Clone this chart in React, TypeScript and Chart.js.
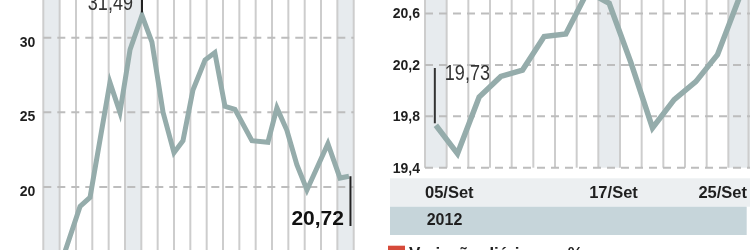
import React, { useEffect, useRef } from 'react';
import { Chart, registerables } from 'chart.js';

Chart.register(...registerables);

// ---------- Left chart: long history ----------
const histX = [1.0, 2.25, 2.86, 4.08, 4.69, 5.31, 6.04, 6.65, 7.33, 8.0, 8.55, 9.16, 9.9, 10.5, 11.12, 11.73, 12.77, 13.75, 14.3, 14.91, 15.52, 16.14, 17.42, 18.16, 18.71];
const histValues = [14.6, 18.7, 19.3, 27.0, 25.0, 29.2, 31.49, 29.7, 25.0, 22.3, 23.1, 26.5, 28.5, 29.0, 25.4, 25.2, 23.1, 23.0, 25.3, 23.8, 21.5, 19.8, 22.9, 20.6, 20.72];
const histYTicks = [20, 25, 30];
const histColumnCount = 19;
const histShadedColumns = [0, 5, 18];
const histPeakIndex = 6;
const histPeakLabel = '31,49';
const histLastLabel = '20,72';

// ---------- Right chart: September 2012 ----------
const days = ['05/Set', '06/Set', '07/Set', '10/Set', '11/Set', '12/Set', '13/Set', '14/Set', '17/Set', '18/Set', '19/Set', '20/Set', '21/Set', '24/Set', '25/Set'];
const dayValues = [19.73, 19.51, 19.95, 20.11, 20.16, 20.42, 20.44, 20.77, 20.68, 20.22, 19.71, 19.93, 20.07, 20.28, 20.72];
const dayYTicks = [19.4, 19.8, 20.2, 20.6];
const dayTickLabels = ['05/Set', '17/Set', '25/Set'];
const dayShadedColumns = [0, 8, 14];
const yearLabel = '2012';
const firstDayLabel = '19,73';
const legendLabel = 'Variação diária, em %';

const LINE = '#95acab';
const STRIPE = '#e7ebee';
const VLINE = '#cdcdcd';
const DASH = '#bdbdbd';
const TEXT = '#1f1f1f';
const SANS = '"Liberation Sans", Arial, sans-serif';

const fmt = (v: number, d: number) => v.toFixed(d).replace('.', ',');

function narrowText(ctx: CanvasRenderingContext2D, text: string, x: number, y: number, size: number, align: CanvasTextAlign) {
  ctx.save();
  ctx.font = `${size}px ${SANS}`;
  ctx.fillStyle = '#333';
  ctx.textBaseline = 'alphabetic';
  ctx.translate(x, y);
  ctx.scale(0.82, 1);
  ctx.textAlign = align;
  ctx.fillText(text, 0, 0);
  ctx.restore();
}

const histPlugin = {
  id: 'histDecor',
  beforeDatasetsDraw(chart: any) {
    const { ctx, chartArea: a, scales } = chart;
    const x = scales.x, y = scales.y;
    ctx.save();
    ctx.fillStyle = STRIPE;
    histShadedColumns.forEach((c) => {
      const x0 = x.getPixelForValue(c), x1 = x.getPixelForValue(c + 1);
      ctx.fillRect(x0, a.top, x1 - x0, a.bottom - a.top);
    });
    ctx.strokeStyle = VLINE;
    ctx.lineWidth = 2;
    for (let c = 0; c <= histColumnCount; c++) {
      const px = x.getPixelForValue(c);
      ctx.beginPath();
      ctx.moveTo(px, a.top);
      ctx.lineTo(px, a.bottom);
      ctx.stroke();
    }
    ctx.strokeStyle = DASH;
    ctx.setLineDash([8, 6]);
    histYTicks.forEach((t) => {
      const py = y.getPixelForValue(t);
      ctx.beginPath();
      ctx.moveTo(a.left, py);
      ctx.lineTo(a.right, py);
      ctx.stroke();
    });
    ctx.setLineDash([]);
    ctx.fillStyle = TEXT;
    ctx.font = `bold 14px ${SANS}`;
    ctx.textAlign = 'right';
    ctx.textBaseline = 'middle';
    histYTicks.forEach((t) => {
      ctx.fillText(String(t), a.left - 8, y.getPixelForValue(t) + 5);
    });
    ctx.restore();
  },
  afterDatasetsDraw(chart: any) {
    const { ctx, chartArea: a, scales } = chart;
    const x = scales.x, y = scales.y;
    ctx.save();
    // peak annotation
    const px = x.getPixelForValue(histX[histPeakIndex]);
    const py = y.getPixelForValue(histValues[histPeakIndex]);
    ctx.strokeStyle = '#222';
    ctx.lineWidth = 2;
    ctx.beginPath();
    ctx.moveTo(px, a.top);
    ctx.lineTo(px, py - 3);
    ctx.stroke();
    narrowText(ctx, histPeakLabel, px - 9, 10, 22, 'right');
    // last value annotation
    const li = histValues.length - 1;
    const lx = x.getPixelForValue(histX[li]) + 1.5;
    const ly = y.getPixelForValue(histValues[li]);
    ctx.beginPath();
    ctx.moveTo(lx, ly);
    ctx.lineTo(lx, 226);
    ctx.stroke();
    ctx.fillStyle = '#111';
    ctx.font = `bold 21px ${SANS}`;
    ctx.textAlign = 'right';
    ctx.textBaseline = 'alphabetic';
    ctx.fillText(histLastLabel, lx - 6.5, 225);
    ctx.restore();
  },
};

const dayPlugin = {
  id: 'dayDecor',
  beforeDatasetsDraw(chart: any) {
    const { ctx, chartArea: a, scales, width } = chart;
    const x = scales.x, y = scales.y;
    ctx.save();
    ctx.fillStyle = STRIPE;
    dayShadedColumns.forEach((c) => {
      const x0 = x.getPixelForValue(c - 0.5), x1 = x.getPixelForValue(c + 0.5);
      ctx.fillRect(x0, a.top, x1 - x0, a.bottom - a.top);
    });
    ctx.strokeStyle = VLINE;
    ctx.lineWidth = 2;
    for (let c = 0; c <= days.length; c++) {
      const px = Math.min(x.getPixelForValue(c - 0.5), width - 1.5);
      ctx.beginPath();
      ctx.moveTo(px, a.top);
      ctx.lineTo(px, a.bottom);
      ctx.stroke();
    }
    ctx.strokeStyle = DASH;
    ctx.setLineDash([8, 6]);
    dayYTicks.forEach((t) => {
      const py = y.getPixelForValue(t);
      ctx.beginPath();
      ctx.moveTo(a.left, py);
      ctx.lineTo(a.right, py);
      ctx.stroke();
    });
    ctx.setLineDash([]);
    ctx.fillStyle = TEXT;
    ctx.font = `bold 14px ${SANS}`;
    ctx.textAlign = 'right';
    ctx.textBaseline = 'middle';
    dayYTicks.forEach((t) => {
      ctx.fillText(fmt(t, 1), a.left - 5, y.getPixelForValue(t) + 1);
    });

    // bands below the plot
    const bx = a.left - 35;
    ctx.fillStyle = '#eceff1';
    ctx.fillRect(bx, a.bottom + 10.6, width - bx, 28.4);
    ctx.fillStyle = '#c6d5da';
    ctx.fillRect(bx, a.bottom + 39, width - 3.3 - bx, 28.3);
    ctx.fillStyle = TEXT;
    ctx.font = `bold 16.5px ${SANS}`;
    ctx.textBaseline = 'alphabetic';
    dayTickLabels.forEach((lab, i) => {
      const idx = days.indexOf(lab);
      let tx: number;
      let align: CanvasTextAlign;
      if (i === 0) { tx = x.getPixelForValue(idx - 0.5); align = 'left'; }
      else if (i === dayTickLabels.length - 1) { tx = x.getPixelForValue(idx + 0.5) - 3; align = 'right'; }
      else { tx = x.getPixelForValue(idx + 0.2); align = 'center'; }
      ctx.textAlign = align;
      ctx.fillText(lab, tx, a.bottom + 30.6);
    });
    ctx.font = `bold 16px ${SANS}`;
    ctx.textAlign = 'left';
    ctx.fillText(yearLabel, a.left + 1.7, a.bottom + 57.3);

    // legend (cut off at the bottom)
    ctx.fillStyle = '#d64a3a';
    ctx.fillRect(bx - 2, a.bottom + 78, 17, 14);
    ctx.fillStyle = TEXT;
    ctx.font = `bold 17px ${SANS}`;
    ctx.fillText(legendLabel, bx + 19, a.bottom + 91.5);
    ctx.restore();
  },
  afterDatasetsDraw(chart: any) {
    const { ctx, scales } = chart;
    const x = scales.x, y = scales.y;
    ctx.save();
    const px = x.getPixelForValue(0) - 1;
    const py = y.getPixelForValue(dayValues[0]);
    ctx.strokeStyle = '#333';
    ctx.lineWidth = 2;
    ctx.beginPath();
    ctx.moveTo(px, 68);
    ctx.lineTo(px, py - 2);
    ctx.stroke();
    narrowText(ctx, firstDayLabel, px + 10, 80, 22, 'left');
    ctx.restore();
  },
};

export default function App() {
  const leftRef = useRef<HTMLCanvasElement>(null);
  const rightRef = useRef<HTMLCanvasElement>(null);

  useEffect(() => {
    const left = new Chart(leftRef.current as HTMLCanvasElement, {
      type: 'line',
      data: {
        datasets: [{
          data: histX.map((v, i) => ({ x: v, y: histValues[i] })),
          borderColor: LINE,
          borderWidth: 5,
          pointRadius: 0,
          tension: 0,
          fill: false,
        }],
      },
      options: {
        responsive: false,
        animation: false,
        layout: { padding: { left: 43.3, right: 370 - 353.7, top: 0, bottom: 0 } },
        scales: {
          x: { type: 'linear', display: false, min: 0, max: histColumnCount },
          y: { type: 'linear', display: false, min: 15.78, max: 32.525 },
        },
        plugins: { legend: { display: false }, tooltip: { enabled: false } },
      },
      plugins: [histPlugin],
    } as any);

    const right = new Chart(rightRef.current as HTMLCanvasElement, {
      type: 'line',
      data: {
        datasets: [{
          data: dayValues.map((v, i) => ({ x: i, y: v })),
          borderColor: LINE,
          borderWidth: 5.5,
          pointRadius: 0,
          tension: 0,
          fill: false,
        }],
      },
      options: {
        responsive: false,
        animation: false,
        layout: { padding: { left: 55, right: 0, top: 0, bottom: 250 - 167.7 } },
        scales: {
          x: { type: 'linear', display: false, min: -0.5, max: days.length - 0.5 },
          y: { type: 'linear', display: false, min: 19.4, max: 20.705 },
        },
        plugins: { legend: { display: false }, tooltip: { enabled: false } },
      },
      plugins: [dayPlugin],
    } as any);

    return () => {
      left.destroy();
      right.destroy();
    };
  }, []);

  return (
    <div style={{ position: 'fixed', left: 0, top: 0, width: 750, height: 250, background: '#fff', overflow: 'hidden' }}>
      <canvas ref={leftRef} width={370} height={250} style={{ position: 'absolute', left: 0, top: 0 }} />
      <canvas ref={rightRef} width={380} height={250} style={{ position: 'absolute', left: 370, top: 0 }} />
    </div>
  );
}
